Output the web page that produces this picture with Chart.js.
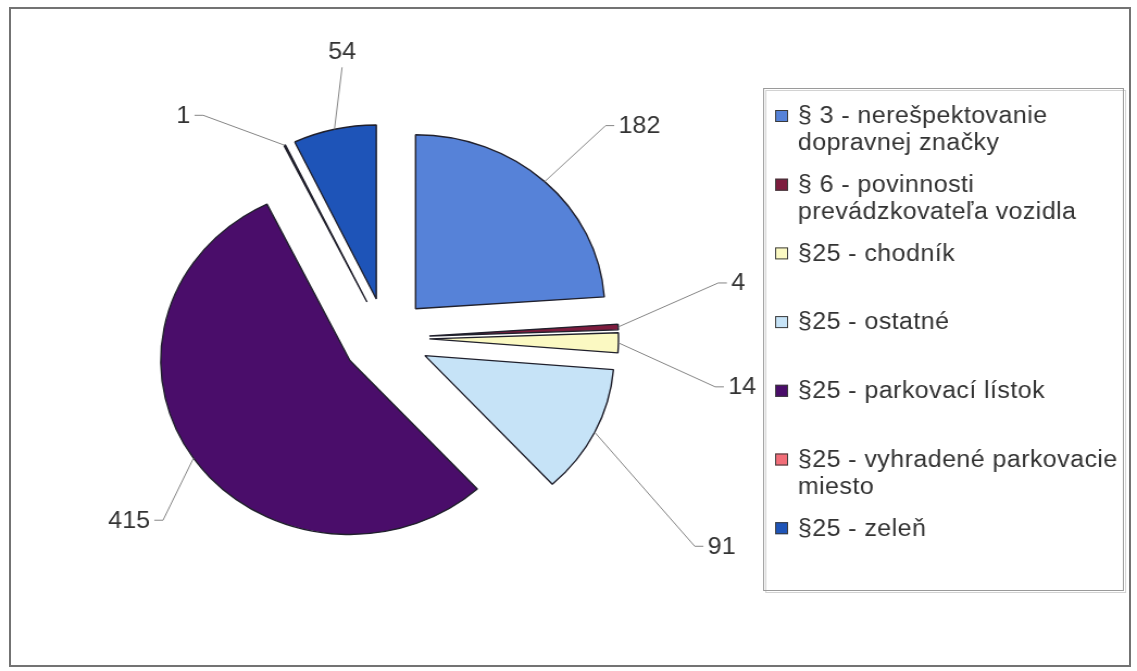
<!DOCTYPE html>
<html>
<head>
<meta charset="utf-8">
<script src="https://cdn.jsdelivr.net/npm/chart.js@4.4.1/dist/chart.umd.min.js"></script>
<style>
  html, body { margin: 0; padding: 0; background: #fff; }
  #wrap { position: relative; width: 1137px; height: 671px; overflow: hidden; }
  #frame { position: absolute; left: 9px; top: 7px; width: 1118px; height: 656px; border: 2px solid #737373; }
  #chart { position: absolute; left: 0; top: 0; }
</style>
</head>
<body>
<div id="wrap">
  <div id="frame"></div>
  <!-- the scanned original is a bit wider than tall, so the canvas is stretched to match -->
  <canvas id="chart" width="1046" height="671" style="width:1137px;height:671px"></canvas>
</div>
<script>
// kategórie (riadky legendy)
const categories = [
  ['§ 3 - nerešpektovanie', 'dopravnej značky'],
  ['§ 6 - povinnosti', 'prevádzkovateľa vozidla'],
  ['§25 - chodník'],
  ['§25 - ostatné'],
  ['§25 - parkovací lístok'],
  ['§25 - vyhradené parkovacie', 'miesto'],
  ['§25 - zeleň']
];
// počty priestupkov
const counts = [182, 4, 14, 91, 415, 1, 54];
const sliceColors = ['#5682d8', '#7d1c3e', '#fbf9c2', '#c6e3f7', '#4a0d6a', '#f26d78', '#1e54b8'];

// vysunutie výsekov od stredu
const explodePlugin = {
    id: 'explode',
    afterDatasetUpdate(chart, args, opts) {
        args.meta.data.forEach(arc => {
            const mid = (arc.startAngle + arc.endAngle) / 2;
            arc.x += Math.cos(mid) * opts.distance;
            arc.y += Math.sin(mid) * opts.distance;
        });
    }
};

// popisky hodnôt s vodiacimi čiarami
const leaderLabels = {
    id: 'leaderLabels',
    afterDatasetsDraw(chart, args, opts) {
        const ctx = chart.ctx;
        const meta = chart.getDatasetMeta(0);
        ctx.save();
        ctx.font = opts.font;
        ctx.fillStyle = opts.color;
        ctx.strokeStyle = opts.lineColor;
        ctx.lineWidth = 1;
        meta.data.forEach((arc, i) => {
            const mid = (arc.startAngle + arc.endAngle) / 2;
            const ax = arc.x + Math.cos(mid) * arc.outerRadius;
            const ay = arc.y + Math.sin(mid) * arc.outerRadius;
            const [dx, dy, side] = opts.leaders[i];
            const ex = ax + dx, ey = ay + dy;
            ctx.beginPath();
            ctx.moveTo(ax, ay);
            ctx.lineTo(ex, ey);
            let tx = ex;
            if (side) {
                tx = ex + side * opts.tick;
                ctx.lineTo(tx, ey);
            }
            ctx.stroke();
            const txt = String(chart.data.datasets[0].data[i]);
            if (side === 0) {
                ctx.textAlign = 'center';
                ctx.textBaseline = 'bottom';
                ctx.fillText(txt, ex, ey - 3);
            } else {
                ctx.textAlign = side > 0 ? 'left' : 'right';
                ctx.textBaseline = 'middle';
                ctx.fillText(txt, tx + side * 4, ey + 1);
            }
        });
        ctx.restore();
    }
};

// legenda v rámčeku vpravo
const boxLegend = {
    id: 'boxLegend',
    afterDraw(chart, args, o) {
        const ctx = chart.ctx;
        const ds = chart.data.datasets[0];
        ctx.save();
        ctx.strokeStyle = '#d2d2d2';
        ctx.lineWidth = 1;
        ctx.strokeRect(o.left + 2.5, o.top + 2.5, o.right - o.left, o.bottom - o.top);
        ctx.strokeStyle = o.borderColor;
        ctx.strokeRect(o.left + 0.5, o.top + 0.5, o.right - o.left, o.bottom - o.top);
        ctx.font = o.font;
        ctx.letterSpacing = o.letterSpacing;
        ctx.textBaseline = 'middle';
        ctx.textAlign = 'left';
        chart.data.labels.forEach((lines, i) => {
            const y = o.firstY + i * o.step;
            ctx.fillStyle = ds.backgroundColor[i];
            ctx.fillRect(o.swatchX, y - 6, 12, 12);
            ctx.strokeStyle = '#3a3a3a';
            ctx.strokeRect(o.swatchX + 0.5, y - 5.5, 11, 11);
            ctx.fillStyle = o.color;
            lines.forEach((t, k) => ctx.fillText(t, o.textX, y + 1 + k * o.lineHeight));
        });
        ctx.restore();
    }
};

new Chart(document.getElementById('chart'), {
    type: 'pie',
    data: {
        labels: categories,
        datasets: [{
            data: counts,
            backgroundColor: sliceColors,
            borderColor: '#20202c',
            borderWidth: 1.4,
            radius: 174
        }]
    },
    options: {
        responsive: false,
        devicePixelRatio: 1,
        animation: false,
        events: [],
        radius: 174,
        layout: { padding: { left: 0, right: 336, top: 5, bottom: 0 } },
        plugins: {
            legend: { display: false },
            tooltip: { enabled: false },
            explode: { distance: 40 },
            leaderLabels: {
                font: '23px "Liberation Sans", Arial, sans-serif',
                color: '#333333',
                lineColor: '#858585',
                tick: 8,
                leaders: [
                    [56, -56, 1],
                    [92, -44, 1],
                    [89, 44, 1],
                    [92, 114, 1],
                    [-28, 62, -1],
                    [-75, -30, -1],
                    [7, -62, 0]
                ]
            },
            boxLegend: {
                left: 702, right: 1033, top: 88, bottom: 590,
                borderColor: '#9a9a9a',
                swatchX: 713, textX: 734,
                firstY: 116, step: 68.7, lineHeight: 27,
                font: '23px "Liberation Sans", Arial, sans-serif',
                letterSpacing: '0.4px',
                color: '#333333'
            }
        }
    },
    plugins: [explodePlugin, leaderLabels, boxLegend]
});
</script>
</body>
</html>
